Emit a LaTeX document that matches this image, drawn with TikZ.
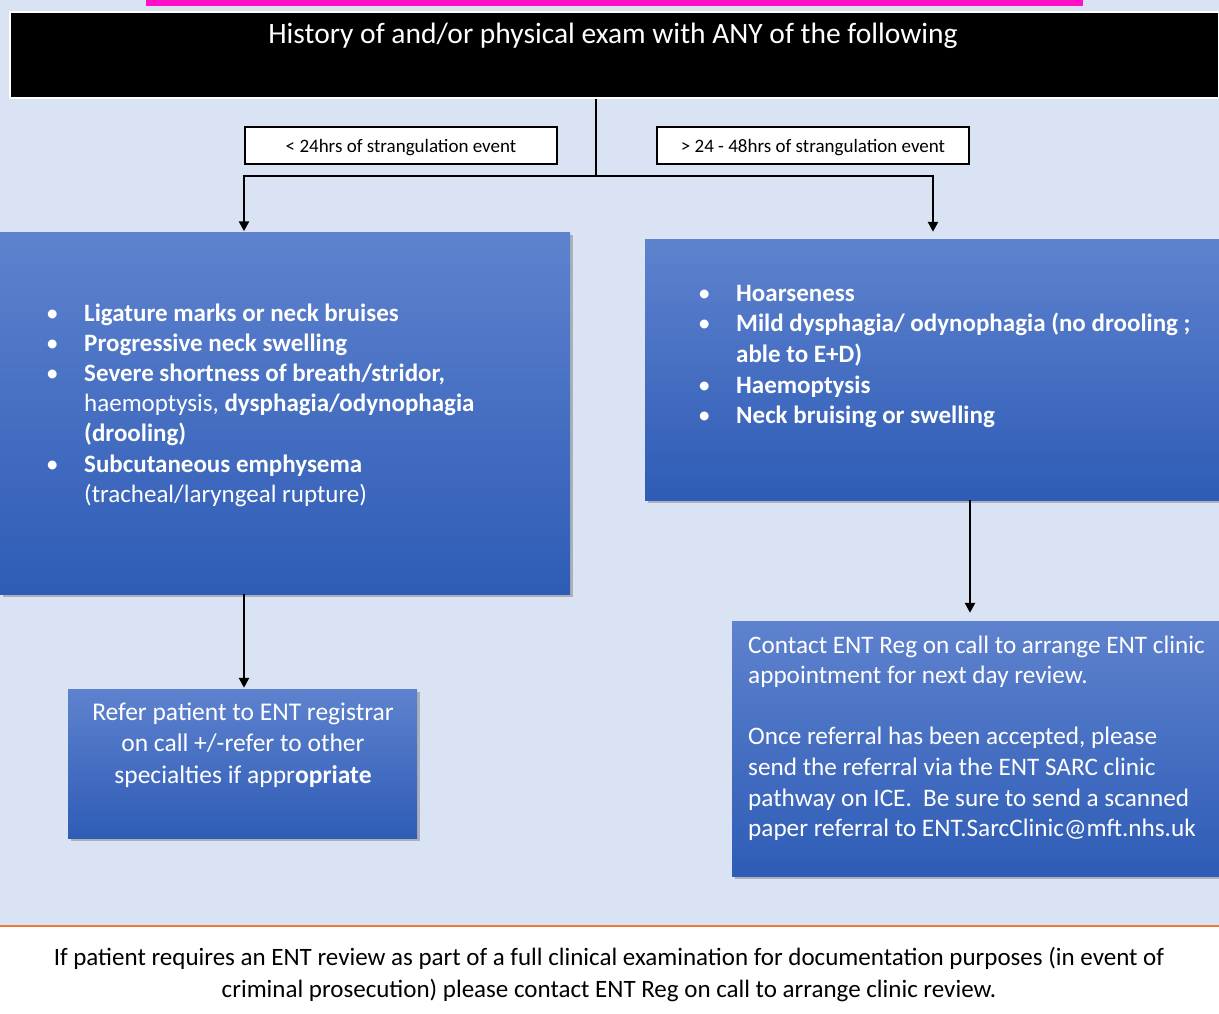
\documentclass[tikz,border=0pt]{standalone}
\usepackage{fontspec}
\setmainfont{Carlito}
\usetikzlibrary{arrows.meta,shadows}
\definecolor{bg}{HTML}{DAE3F3}
\definecolor{btop}{HTML}{5E82CE}
\definecolor{bbot}{HTML}{2E5CB6}
\definecolor{mag}{HTML}{FF10C8}
\definecolor{orng}{HTML}{F07A30}
\begin{document}
\begin{tikzpicture}[x=1pt,y=-1pt,
  bluebox/.style={draw=none, top color=btop, bottom color=bbot, inner sep=0pt,
    drop shadow={shadow xshift=2.5pt, shadow yshift=-2.5pt, fill=black!50, opacity=.5}},
  labbox/.style={draw=black, line width=1.3pt, fill=white, inner sep=0pt,
    text height=14pt, text depth=0pt,
    minimum width=312pt, minimum height=37pt, font=\fontsize{19}{22}\selectfont},
  wtxt/.style={text=white, inner sep=0pt},
  conn/.style={line width=2.6pt, black},
  arr/.style={conn, -{Triangle[length=10pt,width=10pt]}}]
\useasboundingbox (0,0) rectangle (1219,1014);
\fill[bg] (0,0) rectangle (1219,926);
\fill[white] (0,926) rectangle (1219,1014);
\draw[orng, line width=2.5pt] (0,926) -- (1219,926);
\fill[mag] (146,0) rectangle (1083,6);

% title
\node[fill=black, draw=white, line width=2.5pt, minimum width=1209pt, minimum height=86pt, inner sep=0pt] (title) at (614.5,55) {};
\node[wtxt, anchor=base, font=\fontsize{29.5}{33}\selectfont] (titletext) at (613,44) {History of and/or physical exam with ANY of the following};

% labels
\node[labbox] (labL) at (401,145.5) {< 24hrs of strangulation event};
\node[labbox] (labR) at (813,145.5) {> 24 - 48hrs of strangulation event};

% blue boxes
\node[bluebox, minimum width=570pt, minimum height=362pt] (lb) at (285,413) {};
\node[bluebox, minimum width=574pt, minimum height=261pt] (rb) at (932,369.5) {};
\node[bluebox, minimum width=349pt, minimum height=149pt] (refer) at (242.5,763.5) {};
\node[bluebox, minimum width=487pt, minimum height=255pt] (contact) at (975.5,748.5) {};

% connectors
\coordinate (j) at (596,176);
\coordinate (lx) at (244,0);
\coordinate (rx) at (933,0);
\coordinate (rx2) at (970,0);
\draw[conn] (title.south -| j) -- (j);
\draw[arr] (j) -| ([yshift=0.5pt]lx |- lb.north);
\draw[arr] (j) -| ([yshift=7pt]rx |- rb.north);
\draw[arr] (lx |- lb.south) -- ([yshift=1pt]lx |- refer.north);
\draw[arr] (rx2 |- rb.south) -- ([yshift=8pt]rx2 |- contact.north);

% texts
\node[wtxt, anchor=base west] (lt) at (46,321) {\fontsize{25}{30.2}\selectfont
\begin{tabular}[t]{@{}p{38pt}@{}l@{}}
\textbullet & \textbf{Ligature marks or neck bruises}\\
\textbullet & \textbf{Progressive neck swelling}\\
\textbullet & \textbf{Severe shortness of breath/stridor,}\\
 & haemoptysis, \textbf{dysphagia/odynophagia}\\
 & \textbf{(drooling)}\\
\textbullet & \textbf{Subcutaneous emphysema}\\
 & (tracheal/laryngeal rupture)
\end{tabular}};

\node[wtxt, anchor=base west] (rt) at (698,301) {\fontsize{25}{30.75}\selectfont
\begin{tabular}[t]{@{}p{38pt}@{}l@{}}
\textbullet & \textbf{Hoarseness}\\
\textbullet & \textbf{Mild dysphagia/ odynophagia (no drooling ;}\\
 & \textbf{able to E+D)}\\
\textbullet & \textbf{Haemoptysis}\\
\textbullet & \textbf{Neck bruising or swelling}
\end{tabular}};

\node[wtxt, anchor=base] (refertext) at (243,720) {\fontsize{25.5}{31.5}\selectfont
\begin{tabular}[t]{@{}c@{}}
Refer patient to ENT registrar\\
on call +/-refer to other\\
specialties if appr\textbf{opriate}
\end{tabular}};

\node[wtxt, anchor=base west] (contacttext) at (748,653) {\fontsize{25.2}{30.6}\selectfont
\begin{tabular}[t]{@{}l@{}}
Contact ENT Reg on call to arrange ENT clinic\\
appointment for next day review.\\
\\
Once referral has been accepted, please\\
send the referral via the ENT SARC clinic\\
pathway on ICE.\ \ Be sure to send a scanned\\
paper referral to ENT.SarcClinic@mft.nhs.uk
\end{tabular}};

\node[inner sep=0pt, anchor=base] (bottomtext) at (609,965) {\fontsize{25}{32}\selectfont
\begin{tabular}[t]{@{}c@{}}
If patient requires an ENT review as part of a full clinical examination for documentation purposes (in event of\\
criminal prosecution) please contact ENT Reg on call to arrange clinic review.
\end{tabular}};
\end{tikzpicture}
\end{document}
